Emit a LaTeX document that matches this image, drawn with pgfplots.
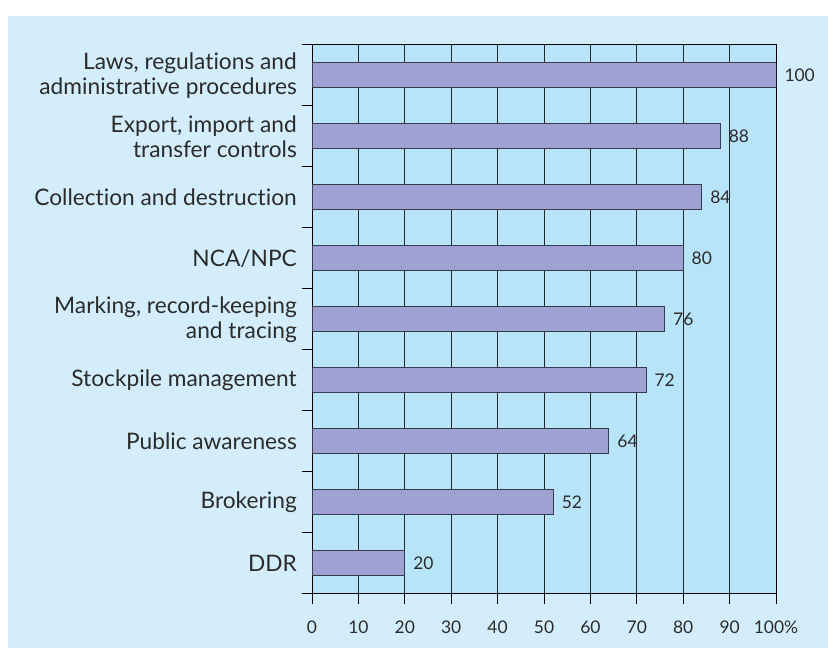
\documentclass[border=0pt]{standalone}
\usepackage{fontspec}
\setmainfont{Lato}[Ligatures=NoCommon]
\usepackage{pgfplots}
\pgfplotsset{compat=1.18}
\definecolor{panel}{HTML}{D3EEFA}
\definecolor{plotbg}{HTML}{B7E4F8}
\definecolor{barfill}{HTML}{9DA2D2}
\definecolor{baredge}{HTML}{3A3B4E}
\definecolor{txt}{HTML}{2B2B2B}

\begin{document}
\begin{tikzpicture}[x=1bp,y=1bp]
\useasboundingbox (0,0) rectangle (828,648);
\fill[panel] (8,0) rectangle (828,632);
\begin{axis}[
    at={(312bp,54bp)}, anchor=south west,
    scale only axis, width=464bp, height=549bp,
    xbar, bar width=25bp,
    xmin=0, xmax=100, ymin=-0.5, ymax=8.5,
    /pgf/number format/assume math mode=true,
    axis background/.style={fill=plotbg},
    xtick={0,10,...,100},
    xticklabels={0,10,20,30,40,50,60,70,80,90,100\%},
    ytick={0,...,8},
    yticklabels={DDR, Brokering, Public awareness, Stockpile management,
        {Marking, record-keeping\\and tracing}, NCA/NPC,
        Collection and destruction, {Export, import and\\transfer controls},
        {Laws, regulations and\\administrative procedures}},
    minor ytick={-0.5,0.5,...,8.5},
    tick pos=left, tick align=outside,
    major tick length=10bp, minor tick length=10bp,
    every major y tick/.append style={draw=none},
    every tick/.append style={black, line width=1bp},
    every minor tick/.append style={black, line width=1bp},
    axis line style={black, line width=1bp},
    xmajorgrids,
    major grid style={black!85, line width=1bp},
    yticklabel style={align=right, font=\fontsize{22.8}{25}\selectfont,
        text=txt, inner sep=0pt, xshift=-5bp},
    xticklabel style={font=\fontsize{17.5}{20}\selectfont, text=txt,
        inner sep=0pt, yshift=-17bp},
    nodes near coords,
    every node near coord/.append style={font=\fontsize{17.5}{20}\selectfont,
        text=txt, inner sep=0pt, xshift=8bp},
]
\addplot[fill=barfill, draw=baredge, line width=1bp] coordinates {
    (20,0) (52,1) (64,2) (72,3) (76,4) (80,5) (84,6) (88,7) (100,8)};
\end{axis}
\end{tikzpicture}
\end{document}
